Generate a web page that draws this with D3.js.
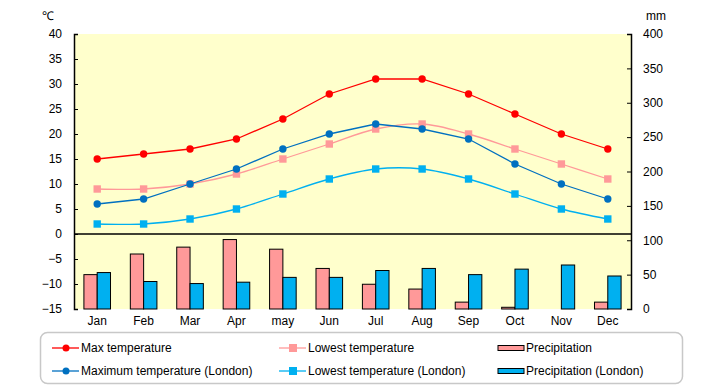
<!DOCTYPE html>
<html>
<head>
<meta charset="utf-8">
<script src="https://cdn.jsdelivr.net/npm/d3@7"></script>
<style>
  body { margin: 0; background: #fff; }
  text { font-family: "Liberation Sans", Arial, sans-serif; font-size: 12px; fill: #000; }
</style>
</head>
<body>
<div id="chart"></div>
<script>
// climate chart: temperature lines + precipitation bars

const months = ['Jan', 'Feb', 'Mar', 'Apr', 'may', 'Jun', 'Jul', 'Aug', 'Sep', 'Oct', 'Nov', 'Dec']
const maxTemp = [15, 16, 17, 19, 23, 28, 31, 31, 28, 24, 20, 17]
const lowTemp = [9, 9, 10, 12, 15, 18, 21, 22, 20, 17, 14, 11]
const maxTempLondon = [6, 7, 10, 13, 17, 20, 22, 21, 19, 14, 10, 7]
const lowTempLondon = [2, 2, 3, 5, 8, 11, 13, 13, 11, 8, 5, 3]
const precip = [50, 80, 90, 101, 87, 59, 36, 29, 10, 2.5, 0, 10]
const precipLondon = [53, 40, 37, 39, 46, 46, 56, 59, 50, 58, 64, 48]
const tempTicks = [40, 35, 30, 25, 20, 15, 10, 5, 0, -5, -10, -15]
const mmTicks = [0, 50, 100, 150, 200, 250, 300, 350, 400]

let margin = {top: 34, right: 89, bottom: 76, left: 74},
    width = 720 - margin.left - margin.right,
    height = 385 - margin.top - margin.bottom

let svg = d3.select('#chart').append('svg')
    .attr('width', 720)
    .attr('height', 385)

let g = svg.append('g')
    .attr('transform', `translate(${margin.left}, ${margin.top})`)

let xScale = d3.scaleBand()
    .domain(months)
    .range([0, width])

let yScale = d3.scaleLinear()
    .domain([-15, 40])
    .range([height, 0])

let mmScale = d3.scaleLinear()
    .domain([0, 400])
    .range([height, 0])

// plot background
g.append('rect')
    .attr('width', width)
    .attr('height', height)
    .style('fill', '#ffffcc')

// bars
let barW = 13.3
let cx = (d) => xScale(d) + xScale.bandwidth() / 2

g.selectAll('.bar1')
    .data(months)
    .enter()
    .append('rect')
    .attr('x', (d) => cx(d) - barW)
    .attr('y', (d, i) => mmScale(precip[i]))
    .attr('width', barW)
    .attr('height', (d, i) => height - mmScale(precip[i]))
    .style('fill', '#ff9999')
    .style('stroke', '#000')
    .style('stroke-width', 1)
    .style('display', (d, i) => precip[i] > 0 ? null : 'none')

g.selectAll('.bar2')
    .data(months)
    .enter()
    .append('rect')
    .attr('x', (d) => cx(d))
    .attr('y', (d, i) => mmScale(precipLondon[i]))
    .attr('width', barW)
    .attr('height', (d, i) => height - mmScale(precipLondon[i]))
    .style('fill', '#00b0f0')
    .style('stroke', '#000')
    .style('stroke-width', 1)

// zero line
g.append('line')
    .attr('x1', 0).attr('x2', width)
    .attr('y1', yScale(0)).attr('y2', yScale(0))
    .style('stroke', '#000')
    .style('stroke-width', 1.5)

// lines
let series = [
    {values: lowTemp, color: '#ff9999', marker: 'square', curve: d3.curveCatmullRom},
    {values: lowTempLondon, color: '#00b0f0', marker: 'square', curve: d3.curveCatmullRom},
    {values: maxTempLondon, color: '#0070c0', marker: 'circle', curve: d3.curveLinear},
    {values: maxTemp, color: '#ff0000', marker: 'circle', curve: d3.curveLinear}
]

series.forEach(function(s) {
    let line = d3.line()
        .x((d, i) => cx(months[i]))
        .y((d) => yScale(d))
        .curve(s.curve)

    g.append('path')
        .datum(s.values)
        .attr('d', line)
        .style('fill', 'none')
        .style('stroke', s.color)
        .style('stroke-width', 1.3)

    if (s.marker === 'circle') {
        g.selectAll(null)
            .data(s.values)
            .enter()
            .append('circle')
            .attr('cx', (d, i) => cx(months[i]))
            .attr('cy', (d) => yScale(d))
            .attr('r', 3.7)
            .style('fill', s.color)
    } else {
        g.selectAll(null)
            .data(s.values)
            .enter()
            .append('rect')
            .attr('x', (d, i) => cx(months[i]) - 3.7)
            .attr('y', (d) => yScale(d) - 3.7)
            .attr('width', 7.4)
            .attr('height', 7.4)
            .style('fill', s.color)
    }
})

// Left axis
let leftAxis = g.append('g')
    .call(d3.axisLeft(yScale).tickValues(tempTicks).tickSize(-4).tickPadding(12))
leftAxis.select('.domain').style('stroke', '#000').style('stroke-width', 1.5)
leftAxis.selectAll('.tick text').style('font-size', '12px').style('font-family', '"Liberation Sans", Arial, sans-serif')

// Right axis
let rightAxis = g.append('g')
    .attr('transform', `translate(${width}, 0)`)
    .call(d3.axisRight(mmScale).tickValues(mmTicks).tickSize(-4).tickPadding(12))
rightAxis.select('.domain').style('stroke', '#000').style('stroke-width', 1.5)
rightAxis.selectAll('.tick text').style('font-size', '12px').style('font-family', '"Liberation Sans", Arial, sans-serif')

// X labels
g.selectAll('.month')
    .data(months)
    .enter()
    .append('text')
    .attr('x', (d) => cx(d))
    .attr('y', height + 16)
    .style('text-anchor', 'middle')
    .text((d) => d)

// units
svg.append('text').attr('x', 42).attr('y', 20).text('℃')
svg.append('text').attr('x', 646).attr('y', 20).text('mm')

// Legend
svg.append('rect')
    .attr('x', 40.5).attr('y', 332.5)
    .attr('width', 642).attr('height', 51)
    .attr('rx', 7)
    .style('fill', '#fff')
    .style('stroke', '#c8c8c8')
    .style('stroke-width', 1.5)

let legendItems = [
    {label: 'Max temperature', color: '#ff0000', type: 'circle', x: 52, y: 348},
    {label: 'Maximum temperature (London)', color: '#0070c0', type: 'circle', x: 52, y: 371},
    {label: 'Lowest temperature', color: '#ff9999', type: 'square', x: 279, y: 348},
    {label: 'Lowest temperature (London)', color: '#00b0f0', type: 'square', x: 279, y: 371},
    {label: 'Precipitation', color: '#ff9999', type: 'bar', x: 498, y: 348},
    {label: 'Precipitation (London)', color: '#00b0f0', type: 'bar', x: 498, y: 371}
]

legendItems.forEach(function(d) {
    let lg = svg.append('g').attr('transform', `translate(${d.x}, ${d.y})`)
    if (d.type === 'bar') {
        lg.append('rect')
            .attr('x', 0).attr('y', -2.5)
            .attr('width', 26).attr('height', 5)
            .style('fill', d.color)
            .style('stroke', '#000')
    } else {
        lg.append('line')
            .attr('x1', 0).attr('x2', 27)
            .style('stroke', d.color)
            .style('stroke-width', 1.3)
        if (d.type === 'circle') {
            lg.append('circle').attr('cx', 14).attr('r', 3.5).style('fill', d.color)
        } else {
            lg.append('rect').attr('x', 10).attr('y', -4).attr('width', 8).attr('height', 8).style('fill', d.color)
        }
    }
    lg.append('text')
        .attr('x', d.type === 'bar' ? 28 : 29)
        .attr('y', 4)
        .text(d.label)
})
</script>
</body>
</html>
